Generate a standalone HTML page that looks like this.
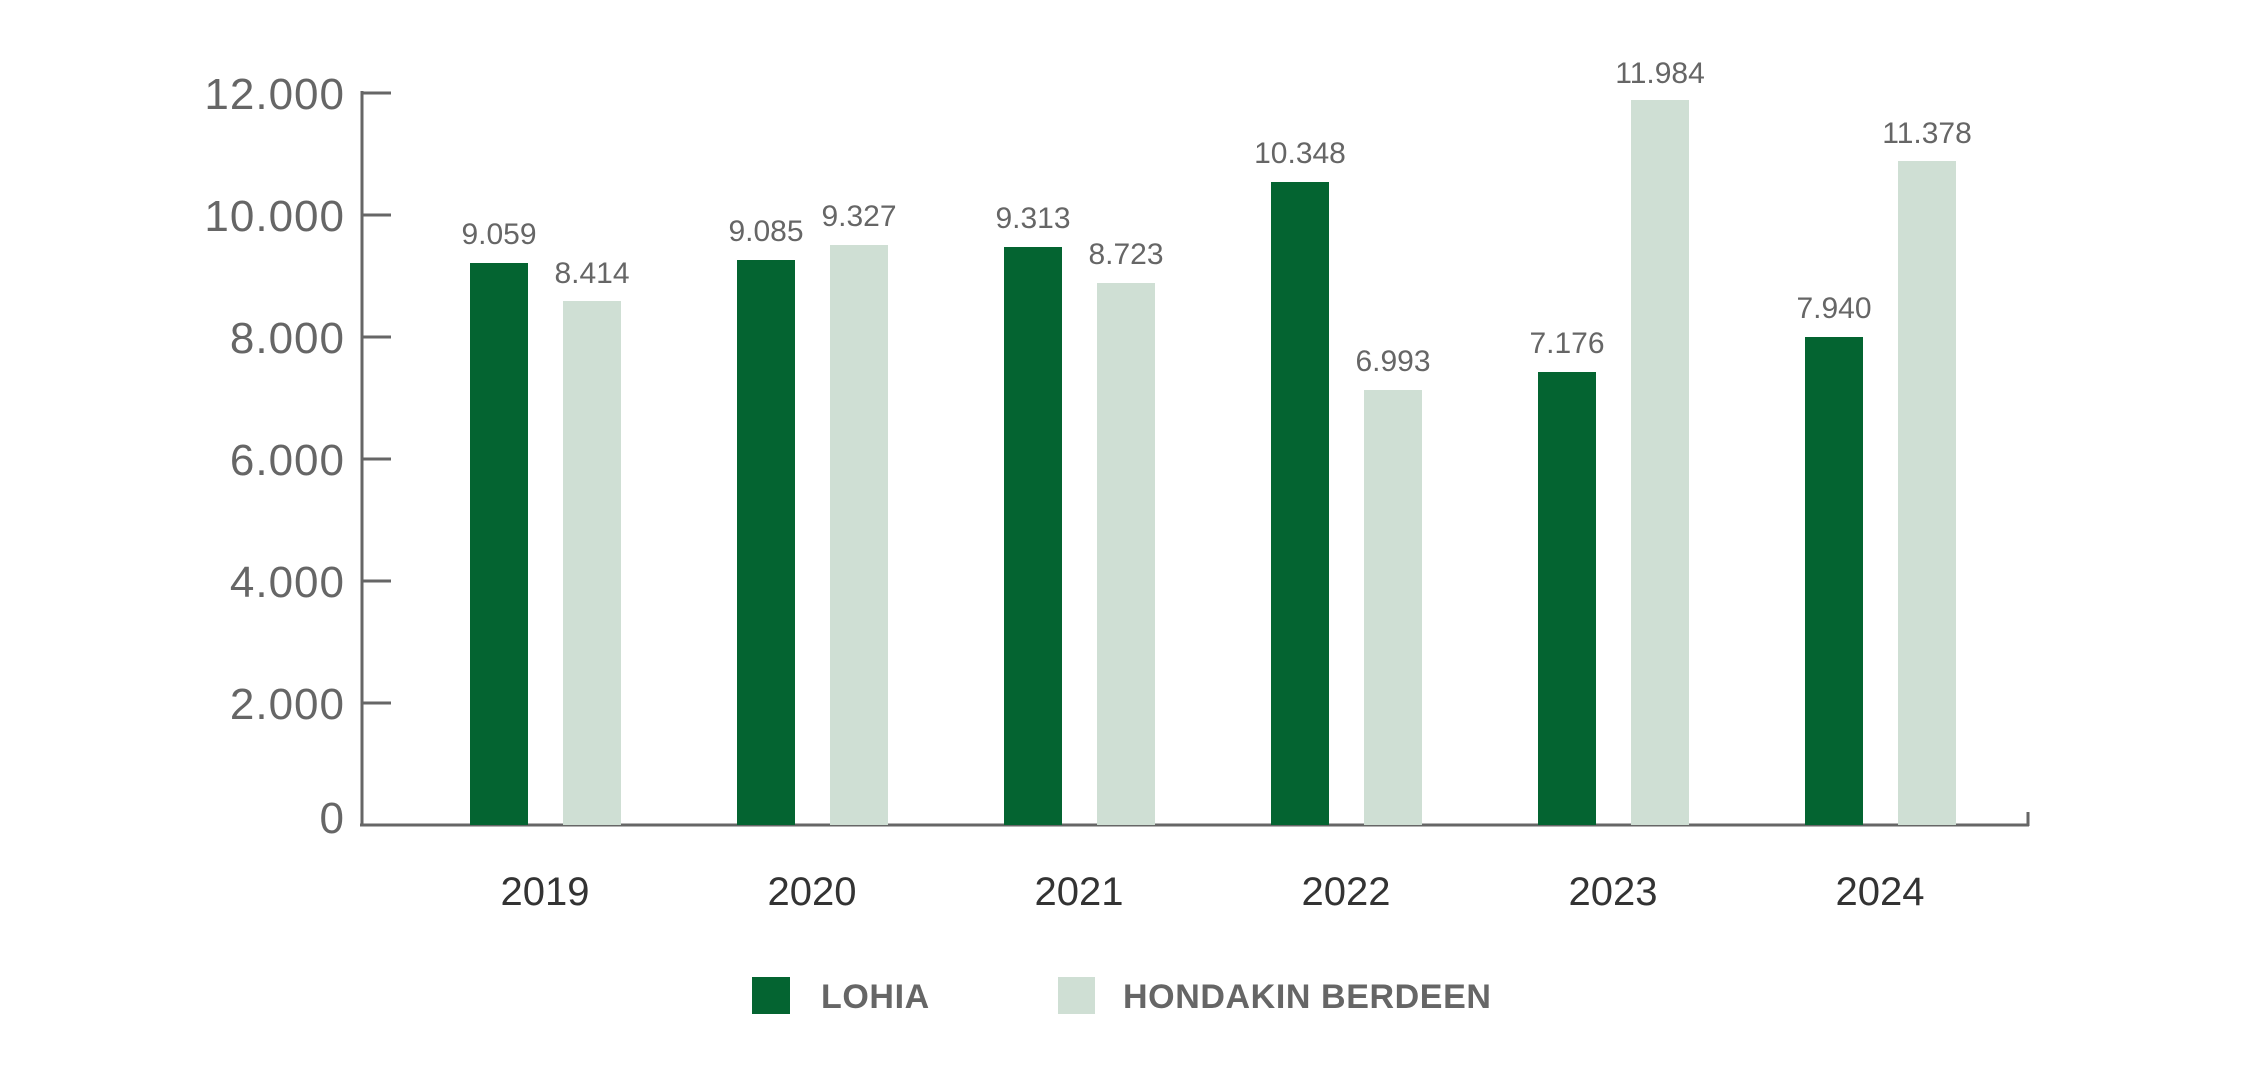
<!DOCTYPE html>
<html><head><meta charset="utf-8"><style>
html,body{margin:0;padding:0;background:#fff;}
svg{display:block;font-family:"Liberation Sans",sans-serif;}
</style></head><body>
<svg width="2251" height="1066" viewBox="0 0 2251 1066" xmlns="http://www.w3.org/2000/svg">
<g stroke="#666" stroke-width="3" fill="none">
<line x1="362" y1="91" x2="362" y2="826"/>
<line x1="360" y1="825" x2="2029" y2="825"/>
<line x1="2028" y1="812" x2="2028" y2="826"/>
<line x1="362" y1="93" x2="391" y2="93"/>
<line x1="362" y1="215" x2="391" y2="215"/>
<line x1="362" y1="337" x2="391" y2="337"/>
<line x1="362" y1="459" x2="391" y2="459"/>
<line x1="362" y1="581" x2="391" y2="581"/>
<line x1="362" y1="703" x2="391" y2="703"/>
</g>
<g fill="#666" font-size="44" text-anchor="end" letter-spacing="1">
<text x="345" y="109">12.000</text>
<text x="345" y="231">10.000</text>
<text x="345" y="353">8.000</text>
<text x="345" y="475">6.000</text>
<text x="345" y="597">4.000</text>
<text x="345" y="719">2.000</text>
<text x="345" y="833">0</text>
</g>
<g fill="#046431">
<rect x="470" y="263" width="58" height="562"/>
<rect x="737" y="260" width="58" height="565"/>
<rect x="1004" y="247" width="58" height="578"/>
<rect x="1271" y="182" width="58" height="643"/>
<rect x="1538" y="372" width="58" height="453"/>
<rect x="1805" y="337" width="58" height="488"/>
</g>
<g fill="#cfdfd4">
<rect x="563" y="301" width="58" height="524"/>
<rect x="830" y="245" width="58" height="580"/>
<rect x="1097" y="283" width="58" height="542"/>
<rect x="1364" y="390" width="58" height="435"/>
<rect x="1631" y="100" width="58" height="725"/>
<rect x="1898" y="161" width="58" height="664"/>
</g>
<g fill="#666" font-size="30" text-anchor="middle">
<text x="499" y="244">9.059</text>
<text x="592" y="283">8.414</text>
<text x="766" y="241">9.085</text>
<text x="859" y="226">9.327</text>
<text x="1033" y="228">9.313</text>
<text x="1126" y="264">8.723</text>
<text x="1300" y="163">10.348</text>
<text x="1393" y="371">6.993</text>
<text x="1567" y="353">7.176</text>
<text x="1660" y="83">11.984</text>
<text x="1834" y="318">7.940</text>
<text x="1927" y="143">11.378</text>
</g>
<g fill="#333" font-size="40" text-anchor="middle">
<text x="545" y="905">2019</text>
<text x="812" y="905">2020</text>
<text x="1079" y="905">2021</text>
<text x="1346" y="905">2022</text>
<text x="1613" y="905">2023</text>
<text x="1880" y="905">2024</text>
</g>
<rect x="752" y="977" width="38" height="37" fill="#046431"/>
<rect x="1058" y="977" width="37" height="37" fill="#cfdfd4"/>
<g fill="#666" font-size="34" font-weight="bold" letter-spacing="0.6">
<text x="821" y="1008">LOHIA</text>
<text x="1123" y="1008">HONDAKIN BERDEEN</text>
</g>
</svg>
</body></html>
